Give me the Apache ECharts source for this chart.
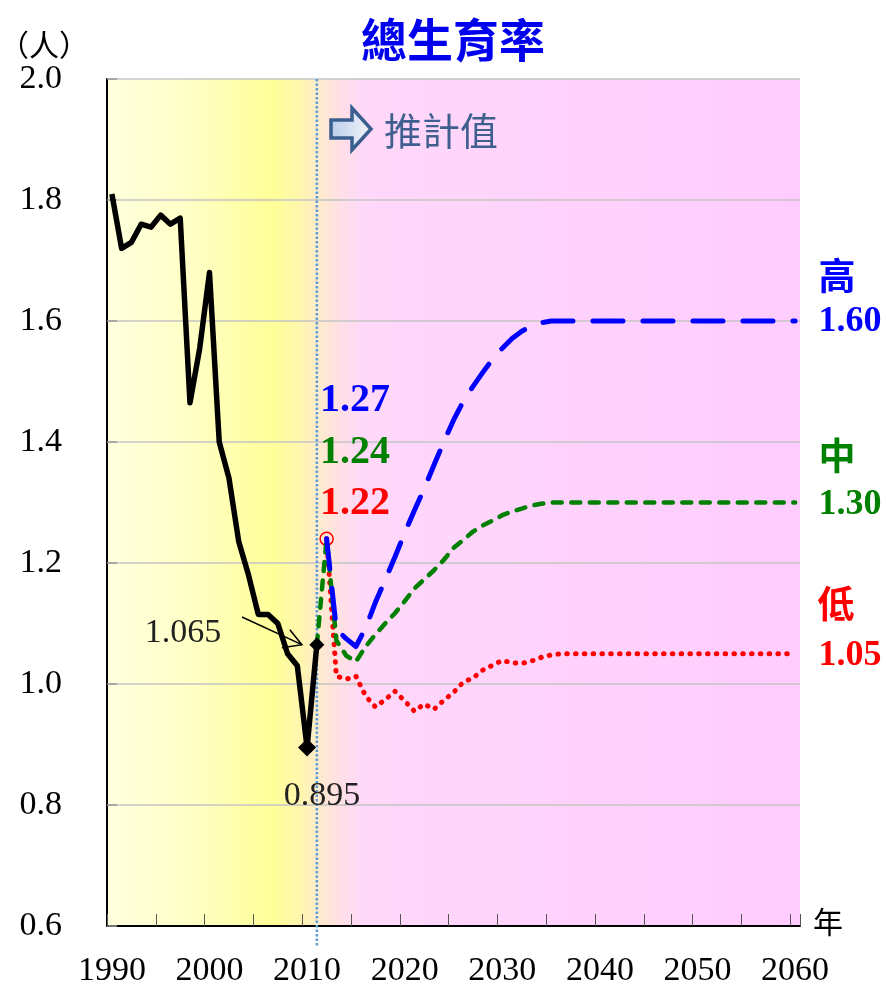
<!DOCTYPE html>
<html>
<head>
<meta charset="utf-8">
<script src="https://cdn.jsdelivr.net/npm/echarts@6.0.0/dist/echarts.min.js"></script>
<style>
  html, body { margin: 0; padding: 0; background: #fff; }
  #chart { width: 886px; height: 986px; }
</style>
</head>
<body>
<div id="chart"></div>
<script>
// categories
const years = [];
for (let y = 1990; y <= 2060; y++) years.push(String(y));

// actual total fertility rate, 1990-2011
const actualStart = 1990;
const actual = [1.81, 1.72, 1.73, 1.76, 1.755, 1.775, 1.76, 1.77, 1.465, 1.555, 1.68,
                1.40, 1.34, 1.235, 1.18, 1.115, 1.115, 1.10, 1.05, 1.03, 0.895, 1.065];

// projections
const highStart = 2012;
const high = [1.24, 1.09, 1.075, 1.062, 1.093, 1.135, 1.172, 1.21, 1.25, 1.287, 1.323, 1.362,
              1.40, 1.436, 1.467, 1.492, 1.515, 1.537, 1.555, 1.571, 1.583, 1.592, 1.597, 1.60,
              1.60, 1.60, 1.60, 1.60, 1.60, 1.60, 1.60, 1.60, 1.60, 1.60, 1.60, 1.60, 1.60,
              1.60, 1.60, 1.60, 1.60, 1.60, 1.60, 1.60, 1.60, 1.60, 1.60, 1.60, 1.60];
const medStart = 2011;
const med = [1.065, 1.24, 1.072, 1.047, 1.037, 1.062, 1.082, 1.10, 1.117, 1.137, 1.158, 1.173,
             1.188, 1.205, 1.225, 1.238, 1.252, 1.262, 1.27, 1.279, 1.285, 1.29, 1.295, 1.298,
             1.30, 1.30, 1.30, 1.30, 1.30, 1.30, 1.30, 1.30, 1.30, 1.30, 1.30, 1.30, 1.30,
             1.30, 1.30, 1.30, 1.30, 1.30, 1.30, 1.30, 1.30, 1.30, 1.30, 1.30, 1.30, 1.30];
const lowStart = 2012;
const low = [1.24, 1.013, 1.008, 1.013, 0.98, 0.962, 0.974, 0.988, 0.972, 0.955, 0.967, 0.958,
             0.973, 0.986, 1.003, 1.01, 1.023, 1.031, 1.039, 1.035, 1.034, 1.038, 1.044, 1.048,
             1.05, 1.05, 1.05, 1.05, 1.05, 1.05, 1.05, 1.05, 1.05, 1.05, 1.05, 1.05, 1.05,
             1.05, 1.05, 1.05, 1.05, 1.05, 1.05, 1.05, 1.05, 1.05, 1.05, 1.05, 1.05];

const yTicks = [0.6, 0.8, 1.0, 1.2, 1.4, 1.6, 1.8, 2.0];
const projLabels = ['1.27', '1.24', '1.22'];
const endLabels = [['高', '1.60'], ['中', '1.30'], ['低', '1.05']];

const BLUE = '#0000FF', GREEN = '#008000', RED = '#FF0000';
const SERIF = '"Liberation Serif", "Times New Roman", serif';
const CJK = '"Noto Sans CJK TC", "Noto Sans CJK SC", sans-serif';

function pairs(start, arr) {
    return arr.map((v, i) => [String(start + i), v]);
}

const actualData = pairs(actualStart, actual).map(p => {
    if (p[0] === '2010') return {value: p, symbol: 'diamond', symbolSize: 18};
    if (p[0] === '2011') return {value: p, symbol: 'diamond', symbolSize: 15};
    return p;
});
const lowData = pairs(lowStart, low).map((p, i) => i === 0 ? {
    value: p, symbol: 'circle', symbolSize: 13,
    itemStyle: {color: 'rgba(0,0,0,0)', borderColor: RED, borderWidth: 1.5}
} : p);

const chart = echarts.init(document.getElementById('chart'));

const option = {
    animation: false,
    grid: {
        left: 107, right: 86, top: 79, bottom: 60,
        outerBoundsMode: 'none',
        show: true, borderWidth: 0,
        backgroundColor: new echarts.graphic.LinearGradient(0, 0, 1, 0, [
            {offset: 0, color: '#FFFFDE'},
            {offset: 0.12, color: '#FFFFC6'},
            {offset: 0.24, color: '#FFFF99'},
            {offset: 0.28, color: '#FFF6AE'},
            {offset: 0.305, color: '#FEEBCC'},
            {offset: 0.335, color: '#FFE0E4'},
            {offset: 0.37, color: '#FFD8FA'},
            {offset: 1, color: '#FFCCFF'}
        ])
    },
    xAxis: {
        type: 'category',
        data: years,
        boundaryGap: true,
        axisLine: {lineStyle: {color: '#000', width: 2}},
        axisTick: {show: true, inside: true, length: 12, interval: 4, lineStyle: {color: '#555', width: 1}},
        axisLabel: {interval: 9, margin: 28, color: '#000', fontSize: 34, fontFamily: SERIF},
        splitLine: {show: false}
    },
    yAxis: {
        type: 'value',
        min: 0.6, max: 2.0, interval: 0.2,
        axisLine: {show: true, lineStyle: {color: '#000', width: 2}},
        axisTick: {show: true, inside: true, length: 10, lineStyle: {color: '#999', width: 1.5}},
        axisLabel: {margin: 45, color: '#000', fontSize: 34, fontFamily: SERIF,
                    formatter: v => v.toFixed(1)},
        splitLine: {show: true, lineStyle: {color: '#C4C4C4', width: 1.5}}
    },
    series: [
        {
            name: '低', type: 'line', data: lowData, symbol: 'none', showAllSymbol: true,
            z: 3,
            itemStyle: {color: RED},
            lineStyle: {color: RED, width: 5, type: [0.5, 8.3], cap: 'round', join: 'round'}
        },
        {
            name: '中', type: 'line', data: pairs(medStart, med), symbol: 'none',
            z: 4,
            itemStyle: {color: GREEN},
            lineStyle: {color: GREEN, width: 4.5, type: [9, 9.5], cap: 'round', join: 'round'}
        },
        {
            name: '高', type: 'line', data: pairs(highStart, high), symbol: 'none',
            z: 5,
            itemStyle: {color: BLUE},
            lineStyle: {color: BLUE, width: 5, type: [30, 20], cap: 'round', join: 'round'}
        },
        {
            name: '實際值', type: 'line', data: actualData, symbol: 'none', showAllSymbol: true,
            z: 6,
            itemStyle: {color: '#000'},
            lineStyle: {color: '#000', width: 5.5, join: 'round'}
        }
    ]
};
chart.setOption(option);

// annotations placed from the axes
const px = (year, v) => chart.convertToPixel({gridIndex: 0}, [years.indexOf(String(year)), v]);
const topLine = px(2011, yTicks[yTicks.length - 1]);
const pt2011 = px(2011, actual[actual.length - 1]);
const pt2010 = px(2010, actual[actual.length - 2]);

function txt(text, x, y, size, color, opts) {
    return {
        type: 'text', x: x, y: y, z: 20,
        style: Object.assign({
            text: text, fill: color, fontSize: size, fontFamily: SERIF,
            align: 'center', verticalAlign: 'middle'
        }, opts || {})
    };
}

const tipX = pt2011[0] - 15, tipY = pt2011[1];
const graphics = [
    // projection start line
    {
        type: 'line', z: 1,
        shape: {x1: topLine[0], y1: topLine[1], x2: topLine[0], y2: 946},
        style: {stroke: '#5B9BD5', lineWidth: 2.5, lineDash: [2.5, 2]}
    },
    // arrow icon before 推計值
    {
        type: 'polygon', z: 20,
        shape: {points: [[331, 120], [352, 120], [352, 108], [371, 129], [352, 150], [352, 138], [331, 138]]},
        style: {
            stroke: '#3A5F8F', lineWidth: 3.5,
            fill: new echarts.graphic.LinearGradient(0, 0, 1, 0, [
                {offset: 0, color: '#B8CCE8'}, {offset: 1, color: '#F4F7FC'}
            ])
        }
    },
    txt('推計值', 441, 131, 38, '#3F5F8F', {fontFamily: CJK}),
    // 1.065 pointer
    txt('1.065', 183, 633, 34, '#222'),
    {
        type: 'line', z: 20,
        shape: {x1: 242, y1: 617, x2: tipX, y2: tipY},
        style: {stroke: '#000', lineWidth: 1.5}
    },
    {
        type: 'polyline', z: 20,
        shape: {points: [[tipX - 12, tipY - 15], [tipX, tipY], [tipX - 20, tipY + 3]]},
        style: {stroke: '#000', lineWidth: 1.5, fill: null}
    },
    txt('0.895', pt2010[0] + 15, 796, 34, '#222'),
    // start values of projections
    txt(projLabels[0], 320, 401, 40, BLUE, {fontWeight: 'bold', align: 'left'}),
    txt(projLabels[1], 320, 453, 40, GREEN, {fontWeight: 'bold', align: 'left'}),
    txt(projLabels[2], 320, 504, 40, RED, {fontWeight: 'bold', align: 'left'}),
    // end labels
    txt(endLabels[0][0], 837, 276, 37, BLUE, {fontFamily: CJK, fontWeight: 'bold'}),
    txt(endLabels[0][1], 850, 322, 36, BLUE, {fontWeight: 'bold'}),
    txt(endLabels[1][0], 837, 456, 37, GREEN, {fontFamily: CJK, fontWeight: 'bold'}),
    txt(endLabels[1][1], 850, 505, 36, GREEN, {fontWeight: 'bold'}),
    txt(endLabels[2][0], 836, 604, 37, RED, {fontFamily: CJK, fontWeight: 'bold'}),
    txt(endLabels[2][1], 850, 656, 36, RED, {fontWeight: 'bold'}),
    // title and axis names
    txt('總生育率', 453, 40, 46, '#0000EE', {fontFamily: CJK, fontWeight: 'bold'}),
    txt('（人）', 44, 45, 30, '#000', {fontFamily: CJK}),
    txt('年', 828, 922, 30, '#000', {fontFamily: CJK})
];
chart.setOption({graphic: graphics});
</script>
</body>
</html>
